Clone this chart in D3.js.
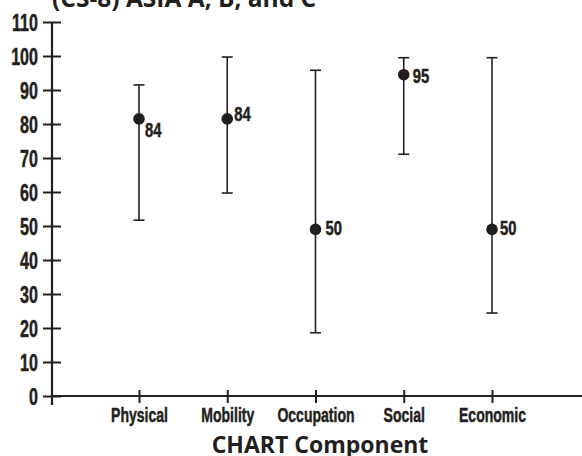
<!DOCTYPE html>
<html><head><meta charset="utf-8">
<script src="https://cdn.jsdelivr.net/npm/d3@7"></script>
<style>
html,body{margin:0;padding:0;background:#fff;}
svg{display:block;}
.cond{font-family:"Liberation Sans",Arial,sans-serif;font-weight:bold;stroke:#231f20;stroke-width:0.5px;}
</style></head>
<body>
<svg id="c" width="582" height="456"></svg>
<script>
const categories = ["Physical","Mobility","Occupation","Social","Economic"];
const centers = [81.5, 81.5, 49, 94.5, 49];
const lows = [51.7, 59.7, 18.6, 71.1, 24.4];
const highs = [91.5, 99.7, 95.8, 99.5, 99.5];
const valueLabels = ["84","84","50","95","50"];
const yTicks = [0,10,20,30,40,50,60,70,80,90,100,110];
const title = "(CS-8) ASIA A, B, and C";
const xTitle = "CHART Component";

const ink = "#231f20";
const SXY = 0.7, SXX = 0.72, SXV = 0.74; // horizontal compression for condensed lettering
const svg = d3.select("#c");
const y = d3.scaleLinear().domain([0,110]).range([396,22]);
const x = d3.scalePoint().domain(categories).range([139,492]);
const x0 = 52, x1 = 582;

// title
svg.append("text").attr("x",52).attr("y",7)
  .attr("font-family","'Open Sans',sans-serif").attr("font-weight","bold")
  .attr("font-size",24.5).attr("fill",ink).text(title);

// y axis
const ya = svg.append("g").attr("transform",`translate(${x0},0)`)
  .call(d3.axisLeft(y).tickValues(yTicks).tickSize(9).tickSizeOuter(0).tickPadding(5));
ya.select(".domain").remove();
ya.selectAll(".tick line").attr("x2",9).attr("x1",-9).attr("stroke",ink).attr("stroke-width",2);
ya.selectAll(".tick text").attr("class","cond").attr("font-size",23).attr("fill",ink)
  .attr("x",-14/SXY).attr("dy","0.36em").attr("transform",`scale(${SXY},1)`);
svg.append("line").attr("x1",x0).attr("x2",x0).attr("y1",y(110)).attr("y2",y(0)+9)
  .attr("stroke",ink).attr("stroke-width",2.2);

// x axis
const xa = svg.append("g").attr("transform",`translate(0,${y(0)})`)
  .call(d3.axisBottom(x).tickSize(7).tickSizeOuter(0).tickPadding(10));
xa.select(".domain").remove();
xa.selectAll(".tick line").attr("y1",-6).attr("y2",7).attr("stroke",ink).attr("stroke-width",2);
xa.selectAll(".tick text").attr("class","cond").attr("font-size",19.5).attr("fill",ink)
  .attr("y",26).attr("dy",0).attr("transform",`scale(${SXX},1)`);
svg.append("line").attr("x1",x0).attr("x2",x1).attr("y1",y(0)).attr("y2",y(0))
  .attr("stroke",ink).attr("stroke-width",2.2);

// x title
svg.append("text").attr("x",320).attr("y",453).attr("text-anchor","middle")
  .attr("font-family","'Open Sans',sans-serif").attr("font-weight","bold")
  .attr("font-size",23).attr("fill",ink).text(xTitle);

// error bars
const g = svg.append("g");
categories.forEach((c,i)=>{
  const cx = x(c);
  g.append("line").attr("x1",cx).attr("x2",cx).attr("y1",y(highs[i])).attr("y2",y(lows[i]))
    .attr("stroke",ink).attr("stroke-width",1.6);
  [highs[i],lows[i]].forEach(v=>{
    g.append("line").attr("x1",cx-5.5).attr("x2",cx+5.5).attr("y1",y(v)).attr("y2",y(v))
      .attr("stroke",ink).attr("stroke-width",1.6);
  });
  g.append("circle").attr("cx",cx).attr("cy",y(centers[i])).attr("r",5.8).attr("fill",ink);
});

// value labels
const labelDx = [6, 7, 10, 9, 8];
const labelDy = [18, 2, 6, 8, 6];
categories.forEach((c,i)=>{
  g.append("text").attr("class","cond").attr("font-size",20).attr("fill",ink)
    .attr("transform",`translate(${x(c)+labelDx[i]},${y(centers[i])+labelDy[i]}) scale(${SXV},1)`)
    .text(valueLabels[i]);
});
</script>
</body></html>
